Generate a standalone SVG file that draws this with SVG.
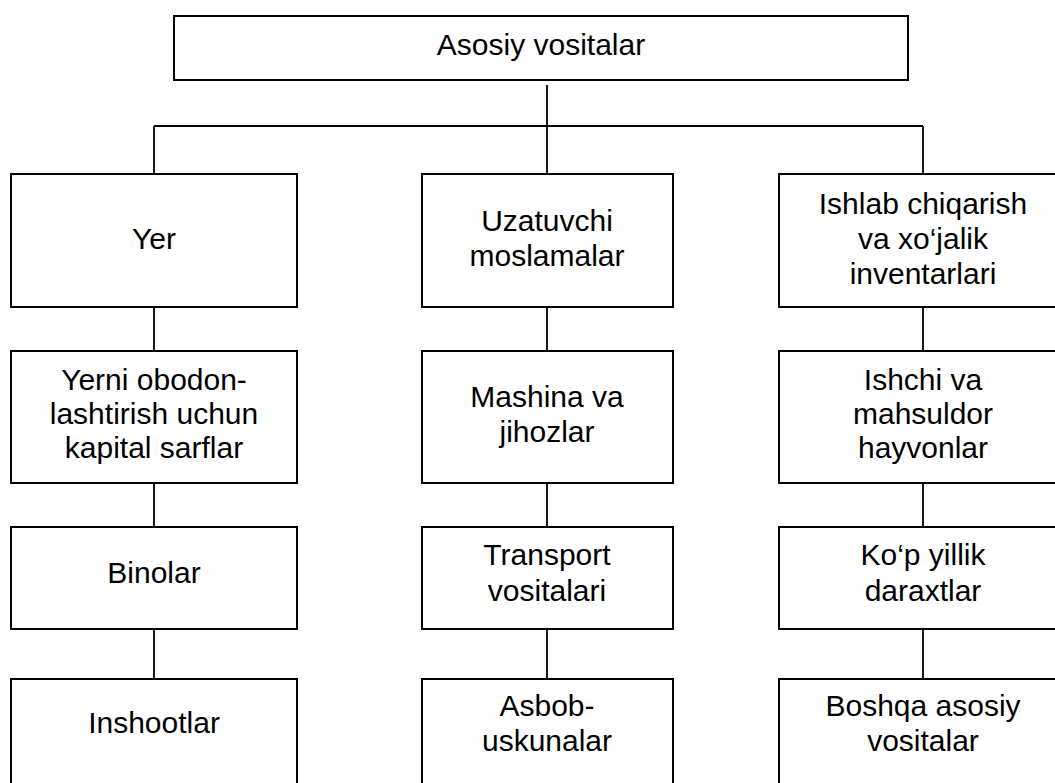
<svg xmlns="http://www.w3.org/2000/svg" width="1055" height="783" viewBox="0 0 1055 783">
<style>
.box{fill:#fff;stroke:#000;stroke-width:2}
.ln{fill:none;stroke:#000;stroke-width:1.8}
text{font-family:"Liberation Sans",Arial,sans-serif;font-size:30px;fill:#000;text-anchor:middle}
</style>
<rect width="1055" height="783" fill="#fff"/>
<g id="connectors">
<path class="ln" d="M547,85V174 M154,126H923 M154,126V174 M923,126V174"/>
<path class="ln" d="M154,307V351 M154,483V527 M154,629V679"/>
<path class="ln" d="M547,307V351 M547,483V527 M547,629V679"/>
<path class="ln" d="M923,307V351 M923,483V527 M923,629V679"/>
</g>
<g id="n0"><rect class="box" x="174" y="16" width="734" height="64"/><text x="541" y="55">Asosiy vositalar</text></g>
<g id="c1r1"><rect class="box" x="11" y="174" width="286" height="133"/><text x="154" y="249">Yer</text></g>
<g id="c1r2"><rect class="box" x="11" y="351" width="286" height="132"/><text x="154" y="390">Yerni obodon-</text><text x="154" y="424">lashtirish uchun</text><text x="154" y="458">kapital sarflar</text></g>
<g id="c1r3"><rect class="box" x="11" y="527" width="286" height="102"/><text x="154" y="583">Binolar</text></g>
<g id="c1r4"><rect class="box" x="11" y="679" width="286" height="108"/><text x="154" y="733">Inshootlar</text></g>
<g id="c2r1"><rect class="box" x="422" y="174" width="251" height="133"/><text x="547" y="231">Uzatuvchi</text><text x="547" y="266">moslamalar</text></g>
<g id="c2r2"><rect class="box" x="422" y="351" width="251" height="132"/><text x="547" y="407">Mashina va</text><text x="547" y="442">jihozlar</text></g>
<g id="c2r3"><rect class="box" x="422" y="527" width="251" height="102"/><text x="547" y="565">Transport</text><text x="547" y="601">vositalari</text></g>
<g id="c2r4"><rect class="box" x="422" y="679" width="251" height="108"/><text x="547" y="716">Asbob-</text><text x="547" y="751">uskunalar</text></g>
<g id="c3r1"><rect class="box" x="779" y="174" width="288" height="133"/><text x="923" y="214">Ishlab chiqarish</text><text x="923" y="249">va xo‘jalik</text><text x="923" y="284">inventarlari</text></g>
<g id="c3r2"><rect class="box" x="779" y="351" width="288" height="132"/><text x="923" y="390">Ishchi va</text><text x="923" y="424">mahsuldor</text><text x="923" y="458">hayvonlar</text></g>
<g id="c3r3"><rect class="box" x="779" y="527" width="288" height="102"/><text x="923" y="565">Ko‘p yillik</text><text x="923" y="601">daraxtlar</text></g>
<g id="c3r4"><rect class="box" x="779" y="679" width="288" height="108"/><text x="923" y="716">Boshqa asosiy</text><text x="923" y="751">vositalar</text></g>
</svg>
